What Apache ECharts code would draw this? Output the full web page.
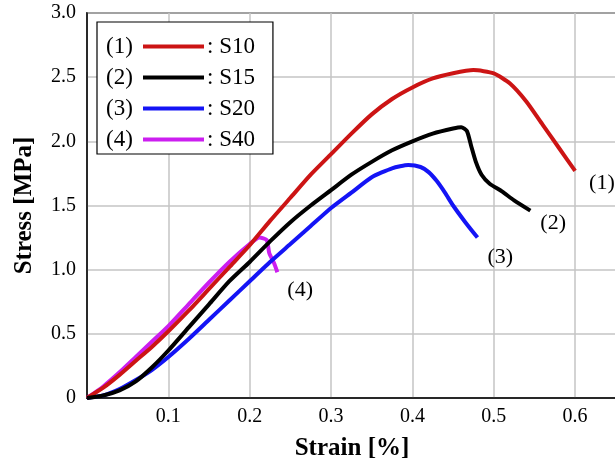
<!DOCTYPE html>
<html>
<head>
<meta charset="utf-8">
<script src="https://cdn.jsdelivr.net/npm/echarts@6/dist/echarts.min.js"></script>
<style>
  html, body { margin: 0; padding: 0; background: #fff; }
  #chart { width: 615px; height: 460px; }
</style>
</head>
<body>
<div id="chart"></div>
<script>
// strain [%] / stress [MPa]
var s10 = [[0,0],[0.02,0.08],[0.04,0.18],[0.06,0.29],[0.08,0.40],[0.1,0.52],[0.125,0.68],[0.15,0.85],[0.175,1.02],
    [0.2,1.19],[0.225,1.38],[0.25,1.56],[0.275,1.74],[0.3,1.90],[0.325,2.06],[0.35,2.21],[0.375,2.33],[0.4,2.42],
    [0.425,2.49],[0.45,2.53],[0.475,2.555],[0.5,2.53],[0.52,2.45],[0.54,2.31],[0.56,2.13],[0.58,1.95],[0.6,1.77]];
var s15 = [[0,0],[0.02,0.02],[0.04,0.06],[0.06,0.13],[0.08,0.24],[0.1,0.37],[0.125,0.55],[0.15,0.73],[0.175,0.91],
    [0.2,1.06],[0.225,1.22],[0.25,1.37],[0.275,1.50],[0.3,1.62],[0.325,1.74],[0.35,1.84],[0.375,1.93],[0.4,2.00],
    [0.425,2.06],[0.45,2.10],[0.46,2.11],[0.467,2.08],[0.472,1.97],[0.478,1.84],[0.485,1.74],[0.495,1.67],
    [0.51,1.61],[0.525,1.54],[0.545,1.46]];
var s20 = [[0,0],[0.02,0.02],[0.04,0.07],[0.06,0.14],[0.08,0.22],[0.1,0.32],[0.125,0.46],[0.15,0.61],[0.175,0.76],
    [0.2,0.91],[0.225,1.06],[0.25,1.20],[0.275,1.34],[0.3,1.48],[0.325,1.60],[0.35,1.72],[0.375,1.79],[0.395,1.815],
    [0.41,1.80],[0.42,1.76],[0.43,1.69],[0.44,1.60],[0.45,1.50],[0.465,1.37],[0.48,1.25]];
var s40 = [[0,0],[0.02,0.09],[0.04,0.2],[0.06,0.32],[0.08,0.44],[0.1,0.56],[0.125,0.73],[0.15,0.90],[0.175,1.06],
    [0.2,1.20],[0.212,1.25],[0.221,1.23],[0.224,1.13],[0.23,1.05],[0.234,0.98]];

var seriesNames = [': S10', ': S15', ': S20', ': S40'];
var curveTags = ['(1)', '(2)', '(3)', '(4)'];
var colors = ['#cc1414', '#000000', '#1414f5', '#cc1ef0'];

var serif = '"Liberation Serif", "DejaVu Serif", serif';

var myChart = echarts.init(document.getElementById('chart'));

// offsets of the (n) tags next to the curve ends
var tagOffsets = [[6, 12], [2, 13], [2, 20], [2, 18]];

function makeSeries(i, data, z) {
    return {
        name: seriesNames[i],
        type: 'line',
        data: data,
        showSymbol: false,
        symbol: 'none',
        smooth: 0.2,
        z: z,
        lineStyle: { color: colors[i], width: 4 },
        itemStyle: { color: colors[i] },
        endLabel: {
            show: true,
            formatter: curveTags[i],
            offset: tagOffsets[i],
            fontFamily: serif,
            fontSize: 22,
            color: '#000'
        }
    };
}

var option = {
    backgroundColor: '#fff',
    animation: false,
    grid: {
        left: 87,
        top: 13,
        right: -2,
        bottom: 62,
        outerBoundsMode: 'none',
        show: true,
        borderColor: '#000',
        borderWidth: 1.5,
        backgroundColor: 'transparent'
    },
    xAxis: {
        type: 'value',
        min: 0,
        max: 0.6515,
        interval: 0.1,
        name: 'Strain [%]',
        nameLocation: 'middle',
        nameGap: 38,
        nameTextStyle: { fontFamily: serif, fontSize: 25, fontWeight: 'bold', color: '#000' },
        axisLine: { lineStyle: { color: '#000', width: 1.5 } },
        axisTick: { show: false },
        axisLabel: {
            fontFamily: serif, fontSize: 20, color: '#000', margin: 9,
            showMinLabel: false,
            formatter: function (v) {
                var r = Math.round(v * 10);
                if (Math.abs(v * 10 - r) > 1e-6 || r === 0) return '';
                return (r / 10).toFixed(1);
            }
        },
        splitLine: { show: true, lineStyle: { color: '#c4c4c4', width: 1.5 } }
    },
    yAxis: {
        type: 'value',
        min: 0,
        max: 3,
        interval: 0.5,
        name: 'Stress [MPa]',
        nameLocation: 'middle',
        nameGap: 50,
        nameTextStyle: { fontFamily: serif, fontSize: 25, fontWeight: 'bold', color: '#000' },
        axisLine: { show: true, lineStyle: { color: '#000', width: 1.5 } },
        axisTick: { show: false },
        axisLabel: {
            fontFamily: serif, fontSize: 20, color: '#000', margin: 11,
            formatter: function (v) { return v === 0 ? '0' : v.toFixed(1); }
        },
        splitLine: { show: true, lineStyle: { color: '#c4c4c4', width: 1.5 } }
    },
    legend: {
        left: 97,
        top: 22,
        orient: 'vertical',
        backgroundColor: '#fff',
        borderColor: '#000',
        borderWidth: 1.2,
        borderRadius: 0,
        padding: [13, 18, 3, 46],
        icon: 'rect',
        itemWidth: 61,
        itemHeight: 4,
        itemGap: 8,
        textStyle: { fontFamily: serif, fontSize: 23, color: '#000', padding: [0, 0, 0, -2] },
        data: seriesNames
    },
    // the (n) tags in front of the legend lines
    graphic: curveTags.map(function (t, i) {
        return {
            type: 'text',
            left: 106,
            top: 35 + i * 31,
            z: 10,
            style: { text: t, fontFamily: serif, fontSize: 23, fill: '#000' }
        };
    }),
    series: [
        makeSeries(0, s10, 4),
        makeSeries(1, s15, 5),
        makeSeries(2, s20, 3),
        makeSeries(3, s40, 2)
    ]
};

myChart.setOption(option);
</script>
</body>
</html>
